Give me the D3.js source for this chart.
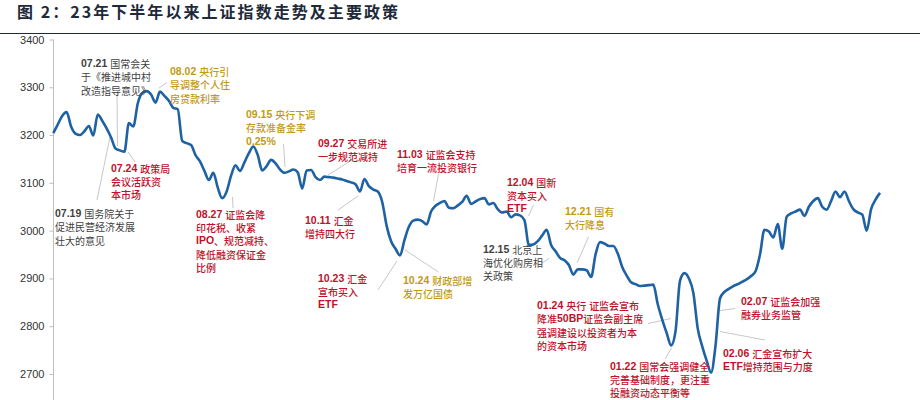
<!DOCTYPE html>
<html>
<head>
<meta charset="utf-8">
<script src="https://cdn.jsdelivr.net/npm/d3@7"></script>
<style>
  html, body { margin: 0; padding: 0; background: #fff; }
  svg { display: block; }
</style>
</head>
<body>
<svg id="chart" width="920" height="400"></svg>
<script>
// ---------------- DATA ----------------
const titleText = "图 2：23年下半年以来上证指数走势及主要政策";
const yTicks = [2700, 2800, 2900, 3000, 3100, 3200, 3300, 3400];
// 上证指数 daily close, trading days from 2023-06-30 onward
const closeValues = [
  3204, 3222, 3240, 3248, 3218, 3203, 3200, 3208, 3219, 3199,
  3243, 3230, 3214, 3195, 3172, 3168, 3165, 3225, 3218, 3266,
  3288, 3292, 3285, 3268, 3291, 3282, 3272, 3257, 3254, 3188,
  3183, 3179, 3158, 3145, 3125, 3106, 3121, 3090, 3068, 3082,
  3115, 3137, 3125, 3143, 3162, 3176, 3158, 3126, 3135, 3148,
  3141, 3128, 3121, 3124, 3128, 3122, 3088, 3126, 3127, 3112,
  3106, 3113, 3112, 3111, 3109, 3107, 3104, 3101, 3097, 3082,
  3108, 3093, 3086, 3082, 3060, 3010, 2978, 2962, 2948, 2980,
  3008, 3021, 3023, 3020, 3013, 3040, 3052, 3058, 3062, 3048,
  3047, 3053, 3060, 3073, 3056, 3061, 3066, 3068, 3055, 3058,
  3045, 3038, 3040, 3028, 3034, 3032, 3022, 2970, 2971, 2978,
  2990, 3002, 2970, 2957, 2943, 2938, 2928, 2908, 2919, 2919,
  2917, 2903, 2950, 2976, 2973, 2968, 2968, 2952, 2924, 2906,
  2892, 2888, 2884, 2885, 2886, 2887, 2846, 2814, 2786, 2760,
  2790, 2895, 2911, 2900, 2870, 2795, 2758, 2728, 2703, 2760,
  2858, 2872, 2878, 2884, 2888, 2893, 2898, 2905, 2915, 2950,
  3002, 2998, 2986, 3014, 2962, 3029, 3036, 3040, 3044, 3031,
  3050, 3062, 3068, 3050, 3044, 3062, 3082, 3070, 3082, 3062,
  3045, 3038, 3034, 3000, 3045, 3065, 3079
];
const tradingDays = closeValues.map((_, i) => i);

// policy annotations: text lines and category (gov = gray, market = red, monetary = gold)
const annoIds   = ["a0721","a0802","a0724","a0719","a0827","a0915","a0927","a1011","a1103","a1204","a1221","a1215","a1023","a1024","a0124","a0122","a0207","a0206"];
const annoKinds = ["gov","pboc","mkt","gov","mkt","pboc","mkt","mkt","mkt","mkt","pboc","gov","mkt","pboc","mkt","mkt","mkt","mkt"];
const annoLines = [
  ["07.21 国常会关", "于《推进城中村", "改造指导意见》"],
  ["08.02 央行引", "导调整个人住", "房贷款利率"],
  ["07.24 政策局", "会议活跃资", "本市场"],
  ["07.19 国务院关于", "促进民营经济发展", "壮大的意见"],
  ["08.27 证监会降", "印花税、收紧", "IPO、规范减持、", "降低融资保证金", "比例"],
  ["09.15 央行下调", "存款准备金率", "0.25%"],
  ["09.27 交易所进", "一步规范减持"],
  ["10.11 汇金", "增持四大行"],
  ["11.03 证监会支持", "培育一流投资银行"],
  ["12.04 国新", "资本买入", "ETF"],
  ["12.21 国有", "大行降息"],
  ["12.15 北京上", "海优化购房相", "关政策"],
  ["10.23 汇金", "宣布买入", "ETF"],
  ["10.24 财政部增", "发万亿国债"],
  ["01.24 央行 证监会宣布", "降准50BP证监会副主席", "强调建设以投资者为本", "的资本市场"],
  ["01.22 国常会强调健全", "完善基础制度，更注重", "投融资动态平衡等"],
  ["02.07 证监会加强", "融券业务监管"],
  ["02.06 汇金宣布扩大", "ETF增持范围与力度"]
];

// ---------------- LAYOUT / STYLE ----------------
const kindColor = { gov: "#3f3f3f", mkt: "#c0102a", pboc: "#c29a14" };
const lineH = 13.4;
// text left x, first line center y, leader [x1,y1,x2,y2]
const annoLayout = {
  a0721: { x: 81,  y: 63,  leader: [117, 93, 117.5, 146] },
  a0802: { x: 170, y: 71,  leader: [159, 88, 167, 82.5] },
  a0724: { x: 111, y: 167.5, leader: [128, 152, 135, 162] },
  a0719: { x: 55,  y: 213, leader: [110, 137, 97, 200] },
  a0827: { x: 196, y: 213.5, leader: [232.5, 197, 233, 208] },
  a0915: { x: 246, y: 114, leader: [283.5, 144, 285, 167] },
  a0927: { x: 318, y: 142.5, leader: [328, 175, 352, 160] },
  a1011: { x: 305, y: 219.5, leader: [338, 210, 358, 196] },
  a1103: { x: 397, y: 153.5, leader: [438.5, 174, 433.5, 201] },
  a1204: { x: 507, y: 181.5, leader: [533.5, 205, 528.5, 216] },
  a1221: { x: 565, y: 211, leader: [588.5, 237, 577, 263] },
  a1215: { x: 483, y: 248.5, leader: [541.5, 263.5, 549, 258.5] },
  a1023: { x: 318, y: 277.5, leader: [378, 290, 397, 261] },
  a1024: { x: 403, y: 280, leader: [405, 250, 438.5, 272] },
  a0124: { x: 537, y: 305, leader: [648, 323.5, 671, 318.5] },
  a0122: { x: 610, y: 365.5, lh: 13.2, leader: [671.5, 348, 665, 359] },
  a0207: { x: 741, y: 301, leader: [720, 310.5, 735, 308.5] },
  a0206: { x: 723, y: 353, leader: [720, 331.5, 765, 340] }
};

const svg = d3.select("#chart");
const W = 920, H = 400;

// Title
svg.append("text")
  .attr("x", 17).attr("y", 18)
  .attr("font-family", "'Noto Sans CJK SC', 'Liberation Sans', sans-serif")
  .attr("font-weight", "bold")
  .attr("font-size", 16)
  .attr("fill", "#1e2a3a")
  .attr("textLength", 381)
  .attr("lengthAdjust", "spacing")
  .text(titleText);
svg.append("line")
  .attr("x1", 0).attr("x2", W)
  .attr("y1", 33.5).attr("y2", 33.5)
  .attr("stroke", "#1e2a3a").attr("stroke-width", 1.2);

// Scales
const x = d3.scaleLinear().domain([0, tradingDays.length - 1]).range([53.3, 880]);
const y = d3.scaleLinear().domain([2700, 3400]).range([374, 39.5]);

// Y axis
const axisG = svg.append("g").attr("transform", "translate(53.5,0)");
axisG.append("line")
  .attr("x1", 0).attr("x2", 0)
  .attr("y1", y(3400)).attr("y2", H)
  .attr("stroke", "#bfbfbf").attr("stroke-width", 1);
const yAxis = d3.axisLeft(y).tickValues(yTicks).tickSize(4).tickPadding(5).tickFormat(d3.format("d"));
const ya = axisG.append("g").call(yAxis);
ya.select(".domain").remove();
ya.selectAll(".tick line").attr("stroke", "#bfbfbf");
ya.selectAll(".tick text")
  .attr("font-family", "'Liberation Sans', Arial, sans-serif")
  .attr("font-size", 11)
  .attr("fill", "#333");

// Leaders
const annos = annoIds.map((id, i) => ({ id, kind: annoKinds[i], lines: annoLines[i], ...annoLayout[id] }));
svg.append("g").selectAll("line").data(annos).join("line")
  .attr("x1", d => d.leader[0]).attr("y1", d => d.leader[1])
  .attr("x2", d => d.leader[2]).attr("y2", d => d.leader[3])
  .attr("stroke", "#c8c8c8").attr("stroke-width", 1);

// Line
const lineGen = d3.line()
  .x((d, i) => x(tradingDays[i]))
  .y(d => y(d))
  .curve(d3.curveMonotoneX);
svg.append("path")
  .datum(closeValues)
  .attr("d", lineGen)
  .attr("fill", "none")
  .attr("stroke", "#1f62a3")
  .attr("stroke-width", 2.6)
  .attr("stroke-linejoin", "round");

// Annotation text
function runs(s) {
  const out = [];
  const re = /([\x20-\x7E]+)|([^\x20-\x7E]+)/g;
  let m;
  while ((m = re.exec(s)) !== null) {
    out.push({ t: m[0], latin: !!m[1] });
  }
  return out;
}
const ag = svg.append("g");
annos.forEach(a => {
  const lh = a.lh || lineH;
  const t = ag.append("text")
    .attr("fill", kindColor[a.kind])
    .attr("font-size", 10)
    .attr("dominant-baseline", "central");
  a.lines.forEach((ln, li) => {
    runs(ln).forEach((r, ri) => {
      const ts = t.append("tspan")
        .attr("font-family", r.latin ? "'Liberation Sans', Arial, sans-serif" : "'Noto Sans CJK SC', sans-serif")
        .attr("font-weight", r.latin ? "bold" : (a.kind === "gov" ? "normal" : "500"))
        .attr("font-size", r.latin ? 10.5 : 10)
        .style("white-space", "pre")
        .text(r.t);
      if (ri === 0) ts.attr("x", a.x).attr("y", a.y + li * lh);
    });
  });
});
</script>
</body>
</html>
